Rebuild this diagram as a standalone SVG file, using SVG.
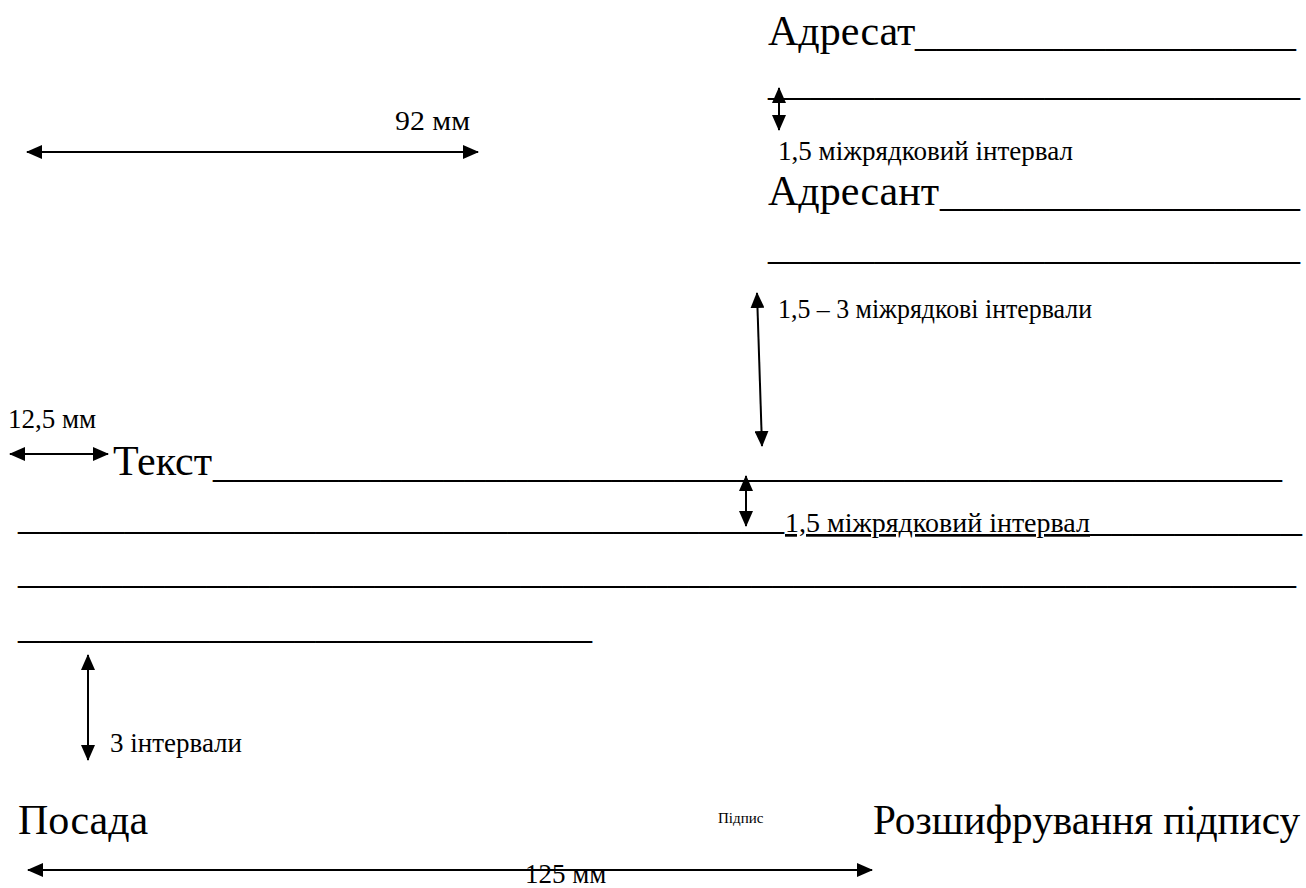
<svg xmlns="http://www.w3.org/2000/svg" width="1306" height="888" viewBox="0 0 1306 888">
<style>
text{font-family:"Liberation Serif","Times New Roman",serif;fill:#000}
.big{font-size:42px}
.sm{font-size:27px}
.tiny{font-size:15px}
.us{font-size:42px}
.arr{stroke:#000;stroke-width:2;fill:none;marker-start:url(#ah);marker-end:url(#ah)}
</style>
<defs>
<marker id="ah" viewBox="0 0 16 14" refX="15" refY="7" markerWidth="16" markerHeight="14" markerUnits="userSpaceOnUse" orient="auto-start-reverse">
<path d="M0,0 L16,7 L0,14 Z" fill="#000"/>
</marker>
</defs>
<rect width="1306" height="888" fill="#fff"/>
<g id="adresat">
<text class="big" x="768" y="45">Адресат</text>
<text class="us" x="915" y="46" textLength="381" lengthAdjust="spacingAndGlyphs">__________________</text>
<text class="us" x="768" y="95" textLength="532" lengthAdjust="spacingAndGlyphs">_________________________</text>
</g>
<g id="adresant">
<text class="big" x="768" y="205">Адресант</text>
<text class="us" x="940" y="206" textLength="360" lengthAdjust="spacingAndGlyphs">_________________</text>
<text class="us" x="768" y="259" textLength="532" lengthAdjust="spacingAndGlyphs">_________________________</text>
</g>
<g id="tekst">
<text class="big" x="113" y="475">Текст</text>
<text class="us" x="213" y="477" textLength="1069" lengthAdjust="spacingAndGlyphs">___________________________________________________</text>
<text class="us" x="18" y="529" textLength="766" lengthAdjust="spacingAndGlyphs">____________________________________</text>
<text class="sm" x="785" y="532" textLength="305" lengthAdjust="spacingAndGlyphs" text-decoration="underline">1,5 міжрядковий інтервал</text>
<text class="us" x="1090" y="531" textLength="212" lengthAdjust="spacingAndGlyphs">__________</text>
<text class="us" x="18" y="583" textLength="1278" lengthAdjust="spacingAndGlyphs">_____________________________________________________________</text>
<text class="us" x="18" y="638" textLength="574" lengthAdjust="spacingAndGlyphs">___________________________</text>
</g>
<g id="signature">
<text class="big" x="18" y="834">Посада</text>
<text class="tiny" x="718" y="823">Підпис</text>
<text class="big" x="873" y="834" textLength="427" lengthAdjust="spacingAndGlyphs">Розшифрування підпису</text>
</g>
<g id="labels">
<text class="sm" x="778" y="160" textLength="295" lengthAdjust="spacingAndGlyphs">1,5 міжрядковий інтервал</text>
<text class="sm" x="778" y="318" textLength="314" lengthAdjust="spacingAndGlyphs">1,5 – 3 міжрядкові інтервали</text>
<text class="sm" x="395" y="130" textLength="75" lengthAdjust="spacingAndGlyphs">92 мм</text>
<text class="sm" x="8" y="428">12,5 мм</text>
<text class="sm" x="110" y="752">3 інтервали</text>
<text class="sm" x="525" y="883">125 мм</text>
</g>
<g id="connectors">
<line class="arr" x1="27" y1="152" x2="478" y2="152"/>
<line class="arr" x1="779" y1="88" x2="779" y2="130"/>
<line class="arr" x1="757" y1="293" x2="762" y2="446"/>
<line class="arr" x1="10" y1="454" x2="108" y2="454"/>
<line class="arr" x1="746" y1="476" x2="746" y2="526"/>
<line class="arr" x1="88" y1="655" x2="88" y2="760"/>
<line class="arr" x1="28" y1="870" x2="872" y2="870"/>
</g>
</svg>
